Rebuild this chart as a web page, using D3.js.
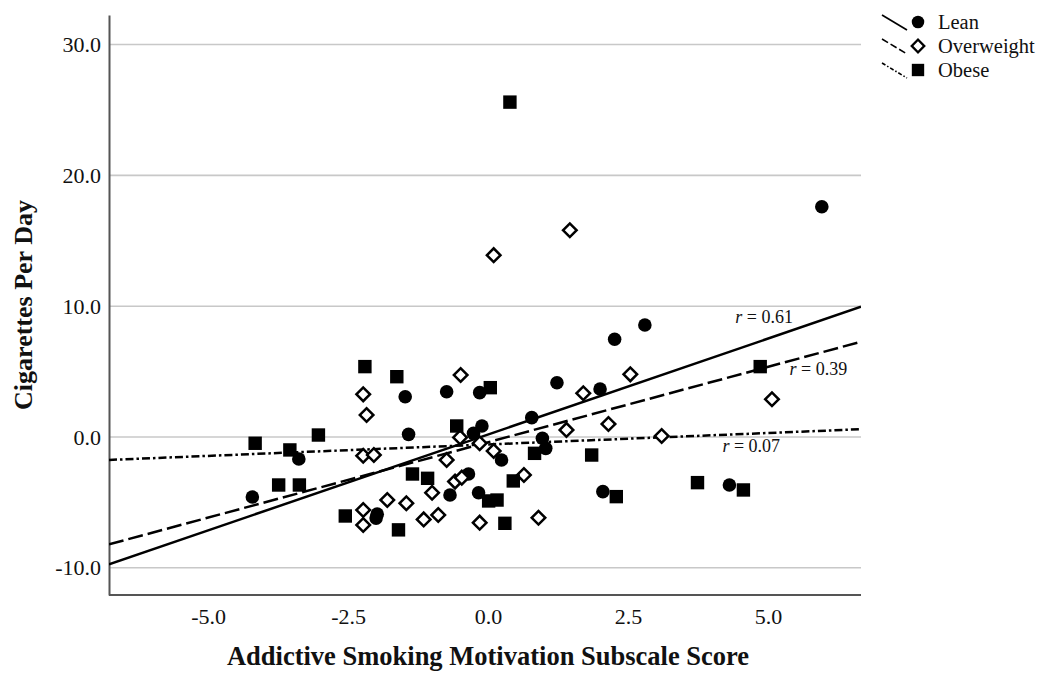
<!DOCTYPE html>
<html>
<head>
<meta charset="utf-8">
<script src="https://cdn.jsdelivr.net/npm/d3@7"></script>
<style>
  body { margin: 0; background: #fff; }
  svg text { font-family: "Liberation Serif", "Times New Roman", serif; fill: #111; }
</style>
</head>
<body>
<div class="visualisation"></div>
<script>
//DATA
var groups = ["Lean", "Overweight", "Obese"];
var rValues = ["0.61", "0.39", "0.07"];

var leanX = [-4.21, -3.38, -1.98, -2.00, -1.48, -1.42, -0.74, -0.15, -0.26, -0.11, 0.24, -0.35,
             -0.68, -0.17, 0.78, 0.97, 1.03, 1.23, 2.00, 2.26, 2.80, 2.05, 4.31, 5.96];
var leanY = [-4.59, -1.68, -5.90, -6.20, 3.08, 0.20, 3.46, 3.39, 0.28, 0.84, -1.76, -2.83,
             -4.43, -4.26, 1.48, -0.10, -0.87, 4.15, 3.67, 7.47, 8.56, -4.18, -3.67, 17.60];

var overX = [0.10, 1.46, -2.23, -2.17, -2.23, -2.04, -1.80, -2.23, -2.23, -0.49, 1.70, 2.54, 1.40, 2.15, 3.10,
             -0.50, -0.15, 0.10, -0.74, -0.59, -0.47, 0.64, -1.00, -1.46, -1.15, -0.89, -0.15, 0.90, 5.07];
var overY = [13.90, 15.80, 3.26, 1.68, -1.43, -1.38, -4.82, -5.58, -6.73, 4.74, 3.34, 4.79, 0.54, 0.99, 0.08,
             -0.03, -0.48, -1.07, -1.76, -3.41, -3.11, -2.91, -4.26, -5.07, -6.30, -5.96, -6.55, -6.17, 2.88];

var obeseX = [0.39, -2.20, -1.63, -4.16, -3.54, -3.03, -3.74, -3.37, -2.55, -1.60, 0.04, -0.56,
              0.83, 1.85, -1.35, -1.08, 0.45, 0.01, 0.16, 2.29, 0.30, 4.86, 3.74, 4.56];
var obeseY = [25.60, 5.38, 4.61, -0.48, -0.99, 0.15, -3.67, -3.67, -6.04, -7.10, 3.77, 0.84,
              -1.25, -1.38, -2.83, -3.16, -3.36, -4.89, -4.82, -4.56, -6.60, 5.38, -3.49, -4.05];

//fit lines (intercept, slope) per group
var fitIntercept = [0.19, -0.40, -0.57];
var fitSlope = [1.466, 1.153, 0.175];

var xTicks = [-5.0, -2.5, 0.0, 2.5, 5.0];
var yTicks = [-10.0, 0.0, 10.0, 20.0, 30.0];
var xDomain = [-6.77, 6.66];
var yDomain = [-12.08, 32.26];

//----------------------------------------------------------------------------------------------------------------------------
//CANVAS
//----------------------------------------------------------------------------------------------------------------------------
var W = 1039, H = 673;
var plot = {left: 109, right: 861, top: 15, bottom: 595};

var svg = d3.select(".visualisation").append("svg")
    .attr("width", W)
    .attr("height", H);

var x = d3.scaleLinear().domain(xDomain).range([plot.left, plot.right]);
var y = d3.scaleLinear().domain(yDomain).range([plot.bottom, plot.top]);

//gridlines
svg.append("g").attr("class", "grid")
  .selectAll("line").data(yTicks).enter().append("line")
    .attr("x1", plot.left).attr("x2", plot.right)
    .attr("y1", d => y(d)).attr("y2", d => y(d))
    .attr("stroke", "#c8c8c8").attr("stroke-width", 1.6);

//axes
var xAxis = svg.append("g")
    .attr("transform", "translate(0," + plot.bottom + ")")
    .call(d3.axisBottom(x).tickValues(xTicks).tickSize(0).tickPadding(13).tickFormat(d => d.toFixed(1)));
var yAxis = svg.append("g")
    .attr("transform", "translate(" + plot.left + ",0)")
    .call(d3.axisLeft(y).tickValues(yTicks).tickSize(0).tickPadding(8).tickFormat(d => d.toFixed(1)));

[xAxis, yAxis].forEach(function(a){
	a.select(".domain").attr("stroke", "#555").attr("stroke-width", 2);
	a.selectAll("text").style("font-size", "22px").attr("fill", "#111");
});
xAxis.select(".domain").attr("d", "M" + plot.left + ",0H" + plot.right);

//axis titles
svg.append("text")
    .attr("x", 488).attr("y", 665)
    .attr("text-anchor", "middle")
    .style("font-size", "26.5px").style("font-weight", "bold")
    .text("Addictive Smoking Motivation Subscale Score");

svg.append("text")
    .attr("transform", "translate(32," + ((plot.top + plot.bottom) / 2) + ") rotate(-90)")
    .attr("text-anchor", "middle")
    .style("font-size", "26px").style("font-weight", "bold")
    .text("Cigarettes Per Day");

//----------------------------------------------------------------------------------------------------------------------------
//FIT LINES
//----------------------------------------------------------------------------------------------------------------------------
var dashes = [null, "15,5", "8,3,2.5,3"];

svg.append("clipPath").attr("id", "plotclip")
  .append("rect").attr("x", plot.left).attr("y", plot.top)
  .attr("width", plot.right - plot.left).attr("height", plot.bottom - plot.top);

svg.append("g").attr("clip-path", "url(#plotclip)")
  .selectAll("line").data(groups).enter().append("line")
    .attr("x1", x(xDomain[0])).attr("x2", x(xDomain[1]))
    .attr("y1", (d, i) => y(fitIntercept[i] + fitSlope[i] * xDomain[0]))
    .attr("y2", (d, i) => y(fitIntercept[i] + fitSlope[i] * xDomain[1]))
    .attr("stroke", "#000").attr("stroke-width", 2.5)
    .attr("stroke-dasharray", (d, i) => dashes[i]);

//r labels: x position (data units) and vertical offset from line
var rAt = [4.93, 5.9, 4.7];
var rOff = [-17, 22, 18];
rValues.forEach(function(r, i){
	var t = svg.append("text")
	    .attr("x", x(rAt[i])).attr("y", y(fitIntercept[i] + fitSlope[i] * rAt[i]) + rOff[i])
	    .attr("text-anchor", "middle")
	    .style("font-size", "18px");
	t.append("tspan").style("font-style", "italic").text("r");
	t.append("tspan").text(" = " + r);
});

//----------------------------------------------------------------------------------------------------------------------------
//POINTS
//----------------------------------------------------------------------------------------------------------------------------
var sym = [
	{type: d3.symbolCircle, size: 145, fill: "#000", stroke: "none", rot: 0},
	{type: d3.symbolSquare, size: 92, fill: "#fff", stroke: "#000", rot: 45},
	{type: d3.symbolSquare, size: 180, fill: "#000", stroke: "none", rot: 0}
];
var seriesX = [leanX, overX, obeseX];
var seriesY = [leanY, overY, obeseY];

seriesX.forEach(function(xs, g){
	var pts = xs.map((v, i) => [v, seriesY[g][i]]);
	svg.append("g").attr("class", "series-" + groups[g])
	  .selectAll("path").data(pts).enter().append("path")
	    .attr("d", d3.symbol().type(sym[g].type).size(sym[g].size))
	    .attr("transform", d => "translate(" + x(d[0]) + "," + y(d[1]) + ") rotate(" + sym[g].rot + ")")
	    .attr("fill", sym[g].fill)
	    .attr("stroke", sym[g].stroke)
	    .attr("stroke-width", 2.5);
});

//----------------------------------------------------------------------------------------------------------------------------
//LEGEND
//----------------------------------------------------------------------------------------------------------------------------
var legend = svg.append("g").attr("transform", "translate(882,15)");
groups.forEach(function(name, i){
	var row = legend.append("g").attr("transform", "translate(0," + (i * 24) + ")");
	row.append("line")
	    .attr("x1", 0).attr("y1", 0).attr("x2", 25).attr("y2", 15)
	    .attr("stroke", "#000").attr("stroke-width", 1.6)
	    .attr("stroke-dasharray", i == 0 ? null : (i == 1 ? "7,3" : "4,2,1.5,2"));
	row.append("path")
	    .attr("d", d3.symbol().type(sym[i].type).size(sym[i].size * 0.85))
	    .attr("transform", "translate(36,7) rotate(" + sym[i].rot + ")")
	    .attr("fill", sym[i].fill).attr("stroke", sym[i].stroke).attr("stroke-width", 2.3);
	row.append("text")
	    .attr("x", 56).attr("y", 14)
	    .style("font-size", "20.5px")
	    .text(name);
});
</script>
</body>
</html>
